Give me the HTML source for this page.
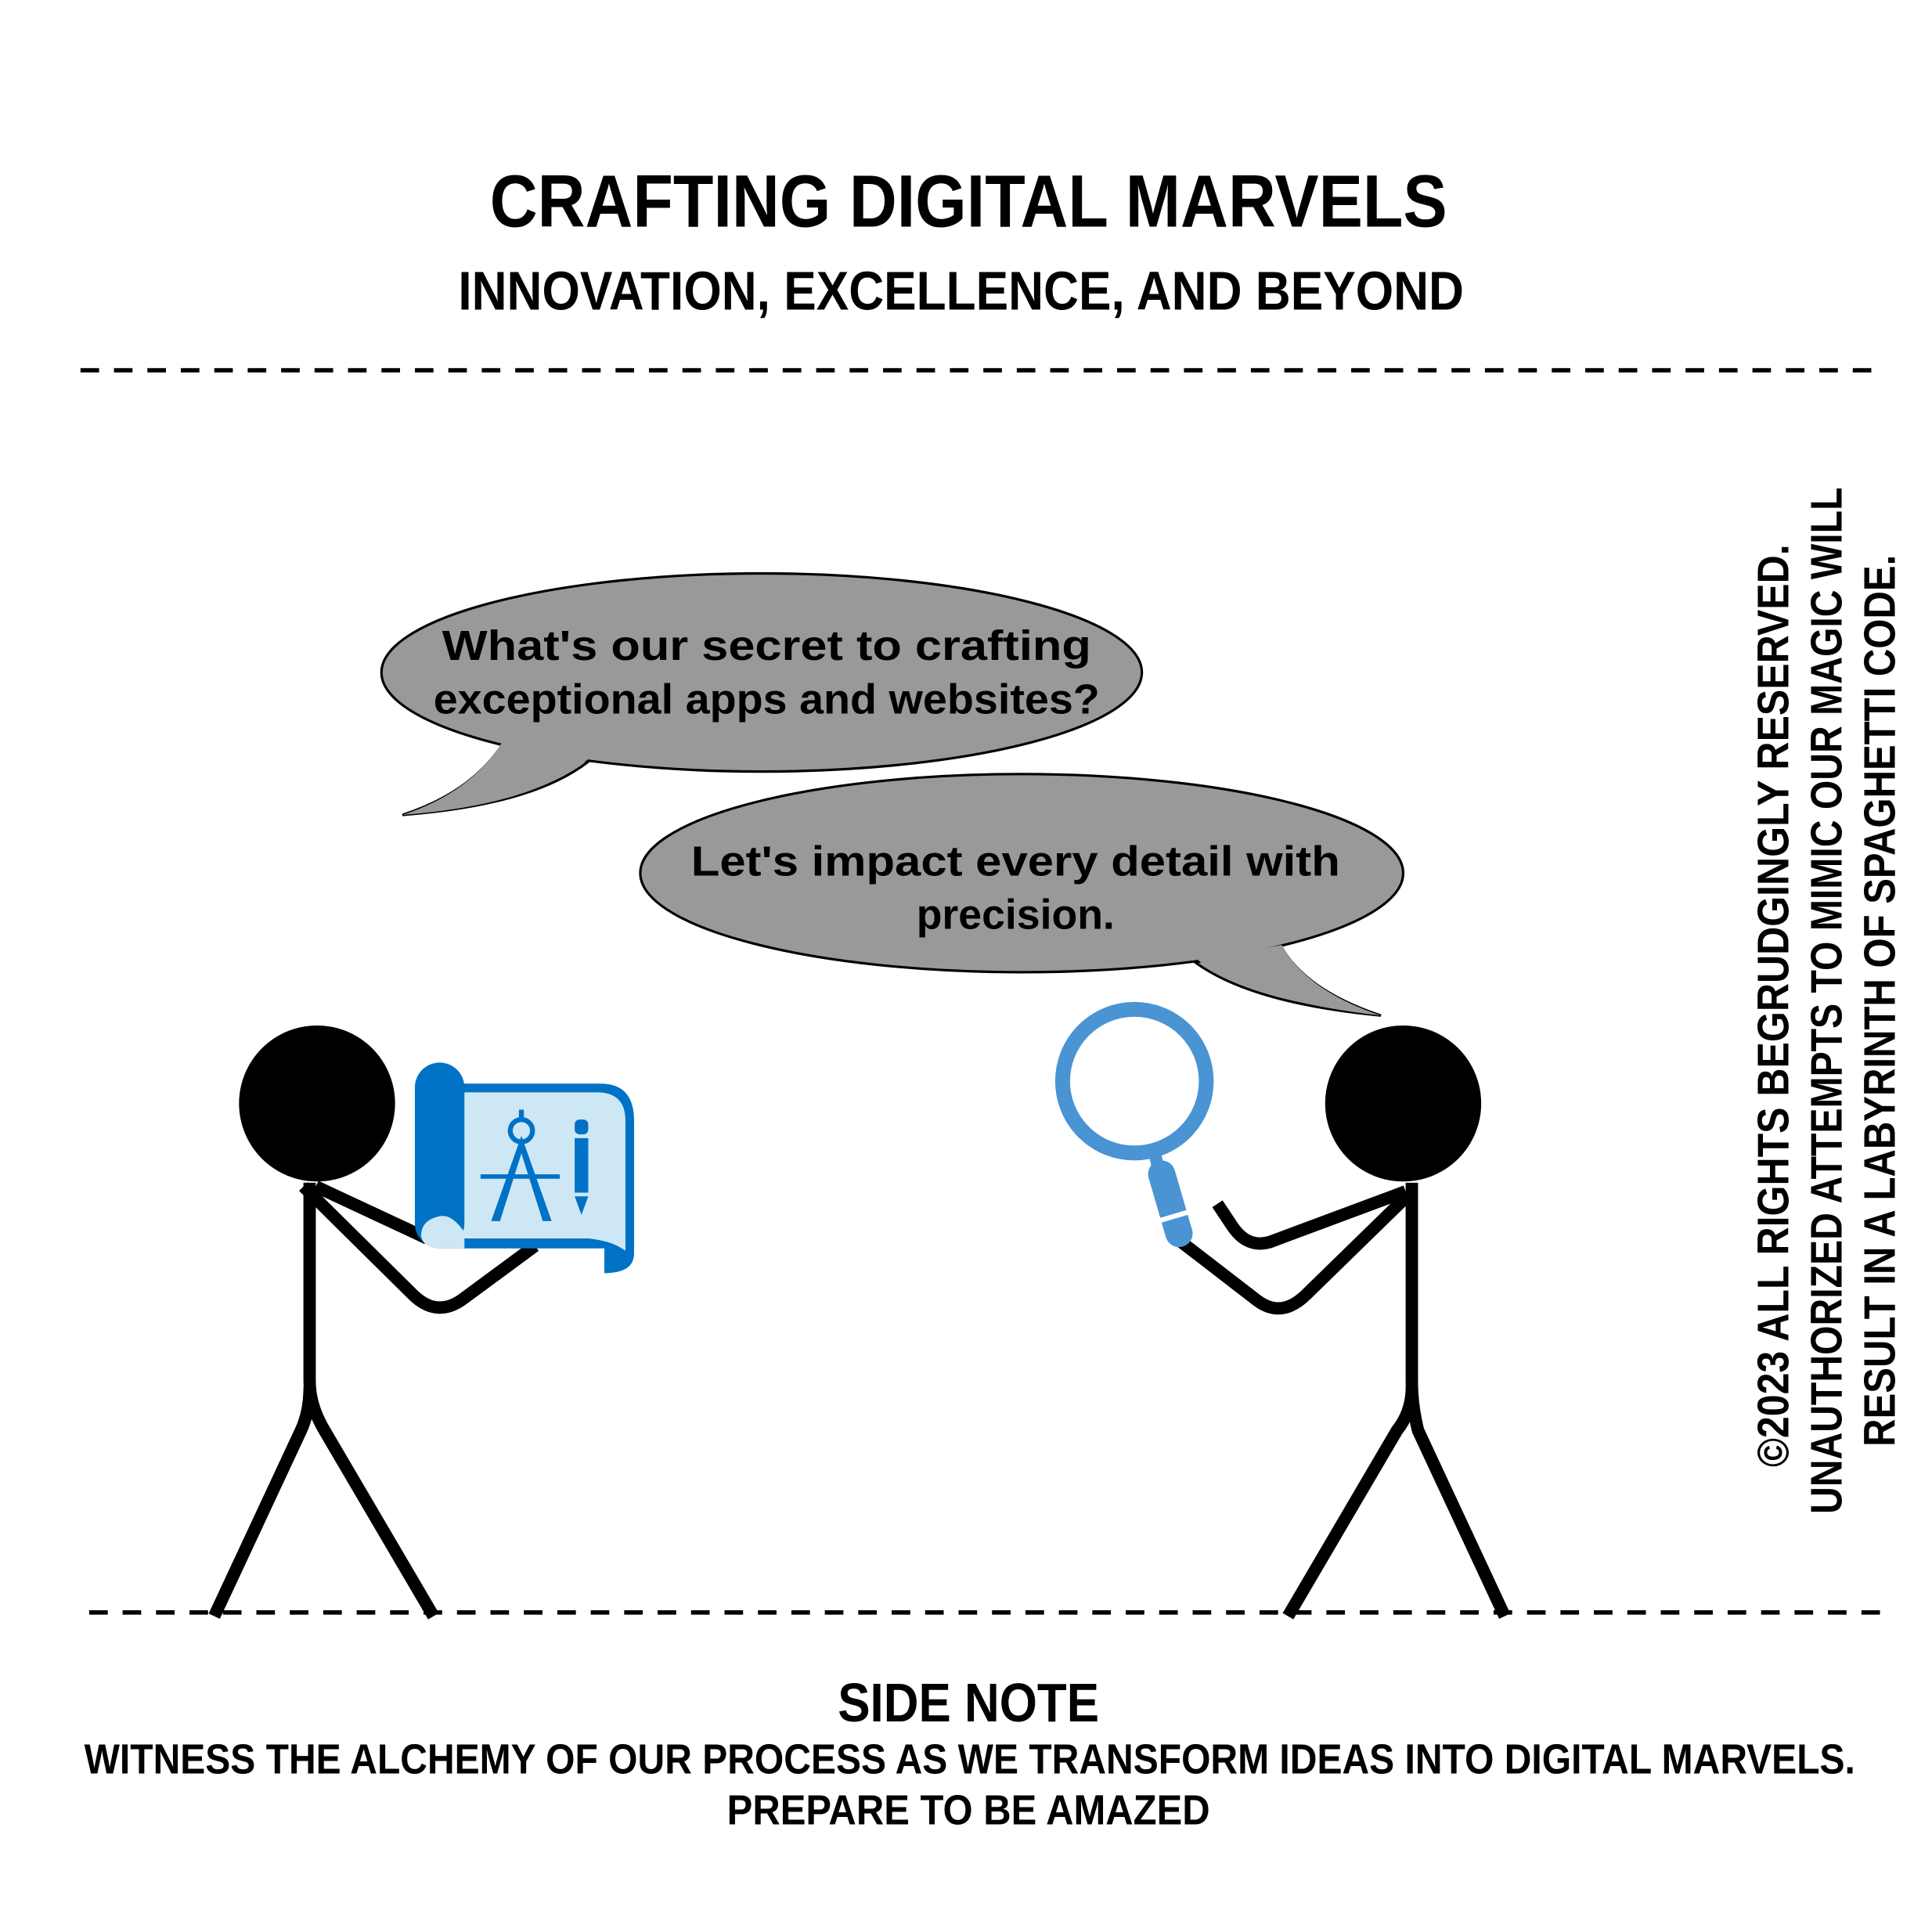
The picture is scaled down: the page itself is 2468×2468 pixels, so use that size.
<!DOCTYPE html>
<html><head><meta charset="utf-8">
<style>
html,body{margin:0;padding:0;background:#fff;}
svg{display:block;}
text{font-family:"Liberation Sans",sans-serif;font-weight:bold;fill:#000;}
.comic{font-family:"Liberation Sans",sans-serif;font-weight:bold;}
</style></head>
<body>
<svg width="2468" height="2468" viewBox="0 0 1560 1560" xmlns="http://www.w3.org/2000/svg">
<rect width="1560" height="1560" fill="#fff"/>
<text x="782" y="183" font-size="60" text-anchor="middle" textLength="773" lengthAdjust="spacingAndGlyphs">CRAFTING DIGITAL MARVELS</text>
<text x="776" y="250" font-size="44" text-anchor="middle" textLength="812" lengthAdjust="spacingAndGlyphs">INNOVATION, EXCELLENCE, AND BEYOND</text>
<line x1="65" y1="299" x2="1515" y2="299" stroke="#000" stroke-width="3.5" stroke-dasharray="15 12"/>
<line x1="72" y1="1302" x2="1522" y2="1302" stroke="#000" stroke-width="3.5" stroke-dasharray="15 12"/>

<g>
<path d="M405,602 Q380,640 325,658 Q430,650 475,615 Z" fill="#999" stroke="#000" stroke-width="2"/>
<ellipse cx="615" cy="543" rx="307" ry="80" fill="#999" stroke="#000" stroke-width="2"/>
<path d="M405,600 Q380,640 325,658 Q430,650 475,613" fill="#999" stroke="none"/>
<text class="comic" x="619" y="533" font-size="34" text-anchor="middle" textLength="524" lengthAdjust="spacingAndGlyphs">What's our secret to crafting</text>
<text class="comic" x="619" y="576" font-size="34" text-anchor="middle" textLength="538" lengthAdjust="spacingAndGlyphs">exceptional apps and websites?</text>
</g>
<g>
<path d="M965,777 Q1010,810 1115,820 Q1055,800 1035,765 Z" fill="#999" stroke="#000" stroke-width="2"/>
<ellipse cx="825" cy="705" rx="308" ry="80" fill="#999" stroke="#000" stroke-width="2"/>
<path d="M967,775 Q1010,808 1115,820 Q1055,800 1035,763 Z" fill="#999" stroke="none"/>
<text class="comic" x="820" y="707" font-size="34" text-anchor="middle" textLength="524" lengthAdjust="spacingAndGlyphs">Let's impact every detail with</text>
<text class="comic" x="820" y="750" font-size="34" text-anchor="middle" textLength="160" lengthAdjust="spacingAndGlyphs">precision.</text>
</g>

<g stroke="#000" stroke-width="10" fill="none" stroke-linecap="butt" stroke-linejoin="round">
<circle cx="256" cy="891" r="63" fill="#000" stroke="none"/>
<path d="M250,955 L250,1115 Q250,1135 262,1155 L350,1305"/>
<path d="M250,1120 Q250,1140 243,1155 L173,1305"/>
<path d="M245,958 L333,1045 Q353,1065 375,1048 L432,1006"/>
<path d="M255,958 L345,1000"/>
</g>
<g>
<path d="M355,875 L485,875 Q512,875 512,905 L512,1012 Q512,1028 488,1028 L488,1008 L355,1008 Z" fill="#0072c6"/>
<path d="M372,882 L482,882 Q505,882 505,905 L505,1010 Q495,1002 475,1000 L355,1000 Z" fill="#cde8f4"/>
<rect x="335" y="858" width="40" height="150" rx="20" fill="#0072c6"/>
<path d="M375,995 Q365,980 355,982 Q340,985 340,998 Q342,1008 355,1008 L375,1008 Z" fill="#cde8f4"/>
<g fill="#0072c6" stroke="#0072c6">
<circle cx="421" cy="913" r="9" fill="none" stroke-width="4"/>
<rect x="419" y="896" width="4" height="8" stroke="none"/>
<path d="M421,920 L398,985 L403,985 L421,928 L439,985 L444,985 Z" stroke-width="2"/>
<line x1="388" y1="950" x2="452" y2="950" stroke-width="3.5"/>
<rect x="464" y="904" width="11" height="12" rx="4" stroke="none"/>
<rect x="464" y="919" width="11" height="44" stroke="none"/>
<path d="M464,966 L475,966 L469.5,981 Z" stroke="none"/>
</g>
</g>

<g stroke="#000" stroke-width="10" fill="none" stroke-linejoin="round">
<circle cx="1133" cy="891" r="63" fill="#000" stroke="none"/>
<path d="M1140,955 L1140,1115 Q1140,1135 1145,1155 L1215,1305"/>
<path d="M1140,1120 Q1140,1140 1128,1155 L1040,1305"/>
<path d="M1137,965 L1055,1045 Q1035,1065 1015,1050 L945,996"/>
<path d="M1135,962 L1025,1003 Q1007,1008 995,990 L983,972"/>
</g>
<g>
<circle cx="916" cy="873" r="58" fill="none" stroke="#4a94d4" stroke-width="12"/>
<line x1="932" y1="930" x2="937" y2="950" stroke="#4a94d4" stroke-width="10"/>
<line x1="938" y1="948" x2="952" y2="996" stroke="#4a94d4" stroke-width="22" stroke-linecap="round"/>
<line x1="935" y1="986" x2="962" y2="978" stroke="#fff" stroke-width="4"/>
</g>

<g font-size="36">
<text x="1444" y="812" text-anchor="middle" transform="rotate(-90 1444 812)" textLength="745" lengthAdjust="spacingAndGlyphs">©2023 ALL RIGHTS BEGRUDGINGLY RESERVED.</text>
<text x="1487" y="808" text-anchor="middle" transform="rotate(-90 1487 808)" textLength="829" lengthAdjust="spacingAndGlyphs">UNAUTHORIZED ATTEMPTS TO MIMIC OUR MAGIC WILL</text>
<text x="1530" y="808" text-anchor="middle" transform="rotate(-90 1530 808)" textLength="720" lengthAdjust="spacingAndGlyphs">RESULT IN A LABYRINTH OF SPAGHETTI CODE.</text>
</g>

<text x="782" y="1390" font-size="44" text-anchor="middle" textLength="211" lengthAdjust="spacingAndGlyphs">SIDE NOTE</text>
<text x="783" y="1432" font-size="34" text-anchor="middle" textLength="1430" lengthAdjust="spacingAndGlyphs">WITNESS THE ALCHEMY OF OUR PROCESS AS WE TRANSFORM IDEAS INTO DIGITAL MARVELS.</text>
<text x="782" y="1473" font-size="34" text-anchor="middle" textLength="390" lengthAdjust="spacingAndGlyphs">PREPARE TO BE AMAZED</text>
</svg>
</body></html>
